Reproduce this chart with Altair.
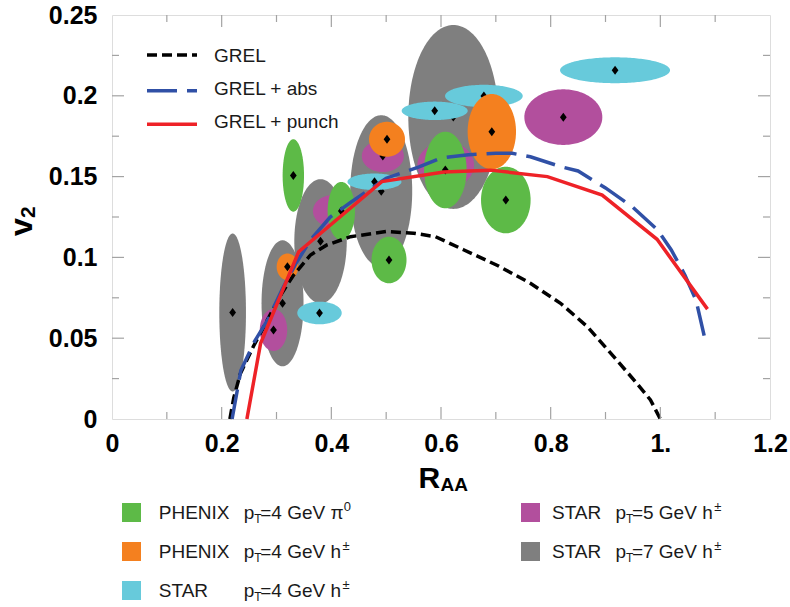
import altair as alt
import pandas as pd

# ---------------- data ----------------
# ellipses: series key, centre (R_AA, v2), half-widths
ell_series = ["star7", "star7", "star5", "phenix_h", "star4", "star7", "star5", "phenix_pi0",
              "phenix_pi0", "star7", "star5", "phenix_h", "star4", "phenix_pi0", "star7",
              "star5", "phenix_pi0", "star4", "star4", "phenix_h", "phenix_pi0", "star5", "star4"]
ell_x = [0.220, 0.311, 0.2945, 0.320, 0.3784, 0.3803, 0.403, 0.4182,
         0.3307, 0.491, 0.4939, 0.5015, 0.4787, 0.5052, 0.6225,
         0.6086, 0.6079, 0.5885, 0.6782, 0.6927, 0.7182, 0.8231, 0.9174]
ell_y = [0.0659, 0.0716, 0.0551, 0.0942, 0.0656, 0.1100, 0.1287, 0.1287,
         0.1507, 0.1410, 0.1627, 0.1731, 0.1468, 0.0984, 0.1869,
         0.1572, 0.1541, 0.1907, 0.1999, 0.1778, 0.1355, 0.1868, 0.2158]
ell_rx = [0.0243, 0.0383, 0.0250, 0.0197, 0.0405, 0.0478, 0.0365, 0.0250,
          0.0195, 0.0565, 0.0383, 0.0328, 0.0492, 0.0319, 0.0821,
          0.0516, 0.0388, 0.0602, 0.0708, 0.0441, 0.0452, 0.0711, 0.1003]
ell_ry = [0.0489, 0.0390, 0.0130, 0.0082, 0.0070, 0.0384, 0.0099, 0.0180,
          0.0224, 0.0470, 0.0099, 0.0108, 0.0051, 0.0144, 0.0569,
          0.0144, 0.0237, 0.0057, 0.0069, 0.0233, 0.0206, 0.0172, 0.0080]

grel_x = [0.215, 0.222, 0.234, 0.258, 0.283, 0.310, 0.331, 0.362, 0.392, 0.435, 0.50, 0.55,
          0.59, 0.642, 0.703, 0.763, 0.818, 0.867, 0.915, 0.952, 0.982, 1.0]
grel_y = [0.0, 0.013, 0.028, 0.045, 0.061, 0.078, 0.089, 0.1015, 0.1077, 0.1128, 0.1160, 0.1150,
          0.1128, 0.1046, 0.0950, 0.0840, 0.0716, 0.0571, 0.0386, 0.0241, 0.0118, 0.0]

abs_x = [0.219, 0.235, 0.26, 0.285, 0.31, 0.335, 0.362, 0.398, 0.435, 0.50, 0.56, 0.60, 0.65,
         0.70, 0.73, 0.763, 0.82, 0.85, 0.90, 0.95, 0.995, 1.02, 1.045, 1.065, 1.083]
abs_y = [0.0, 0.030, 0.048, 0.062, 0.080, 0.096, 0.1108, 0.125, 0.134, 0.149, 0.156, 0.1615,
         0.1635, 0.1644, 0.1644, 0.1623, 0.156, 0.1535, 0.143, 0.131, 0.117, 0.1046, 0.089,
         0.0736, 0.047]

punch_x = [0.246, 0.271, 0.3405, 0.492, 0.605, 0.69, 0.794, 0.894, 0.994, 1.086]
punch_y = [0.0, 0.0468, 0.1035, 0.1469, 0.1528, 0.154, 0.150, 0.1386, 0.1112, 0.068]

curve_labels = ["GREL", "GREL + abs", "GREL + punch"]

x_tick_labels = [0, 0.2, 0.4, 0.6, 0.8, 1.0, 1.2]
y_tick_labels = [0, 0.05, 0.1, 0.15, 0.2, 0.25]
x_major = [0.2, 0.4, 0.6, 0.8, 1.0]
x_minor = [0.1, 0.3, 0.5, 0.7, 0.9, 1.1]
y_major = [0.05, 0.1, 0.15, 0.2]
y_minor = [0.025, 0.075, 0.125, 0.175, 0.225]

# bottom legend entries
leg_keys = ["phenix_pi0", "phenix_h", "star4", "star5", "star7"]
leg_group = ["PHENIX", "PHENIX", "STAR", "STAR", "STAR"]
leg_pt = ["4", "4", "4", "5", "7"]
leg_particle = ["\u03c0", "h", "h", "h", "h"]
leg_charge = ["0", "\u00b1", "\u00b1", "\u00b1", "\u00b1"]

# ---------------- style ----------------
COLORS = {"phenix_pi0": "#5dba47", "phenix_h": "#f4801f", "star4": "#67cadb",
          "star5": "#b24f9d", "star7": "#7f7f7f"}
DRAW_ORDER = ["star7", "star5", "star4", "phenix_pi0", "phenix_h"]
FONT = "Liberation Sans"
W, H = 658, 404
FRAME = "#a3a3a3"
DIAMOND = "M0,-1L0.75,0L0,1L-0.75,0Z"

xs = alt.Scale(domain=[0, 1.2], nice=False, zero=False)
ys = alt.Scale(domain=[0, 0.25], nice=False, zero=False)

xaxis = alt.Axis(values=x_tick_labels, format="~g",
                 labelExpr="datum.value == 1 ? '1.' : datum.label",
                 title=None, ticks=False, domain=False, grid=False,
                 labelFont=FONT, labelFontSize=25, labelFontWeight="bold", labelColor="black",
                 labelPadding=12, labelFlush=False, labelOverlap=False)
yaxis = alt.Axis(values=y_tick_labels, format="~g", title=None, ticks=False, domain=False,
                 grid=False, labelFont=FONT, labelFontSize=25, labelFontWeight="bold",
                 labelColor="black", labelPadding=15, labelFlush=False, labelOverlap=False)


def X(field):
    return alt.X(field, scale=xs, axis=xaxis, title=None)


def Y(field):
    return alt.Y(field, scale=ys, axis=yaxis, title=None)


one = pd.DataFrame({"k": [0]})
layers = []

# ---------------- ellipses + centre diamonds ----------------
ell = pd.DataFrame({"series": ell_series, "x": ell_x, "y": ell_y, "rx": ell_rx, "ry": ell_ry})
ell["id"] = range(len(ell))
for key in DRAW_ORDER:
    base = alt.Chart(ell).transform_filter(alt.datum.series == key)
    area = (base.transform_calculate(t="sequence(0, PI + 0.001, PI / 90)")
            .transform_flatten(["t"])
            .transform_calculate(px="datum.x - datum.rx * cos(datum.t)",
                                 ylo="datum.y - datum.ry * sin(datum.t)",
                                 yhi="datum.y + datum.ry * sin(datum.t)")
            .mark_area(color=COLORS[key], opacity=1, interpolate="linear")
            .encode(x=X("px:Q"), y=Y("ylo:Q"), y2="yhi:Q", detail="id:N"))
    dia = base.mark_point(shape=DIAMOND, filled=True, color="black", opacity=1, size=81).encode(
        x=X("x:Q"), y=Y("y:Q"))
    layers += [area, dia]

# ---------------- model curves ----------------
curves = [
    (grel_x, grel_y, "#000000", [10, 5]),
    (abs_x, abs_y, "#3050a6", [30, 10]),
    (punch_x, punch_y, "#ee2227", None),
]
for cx, cy, col, dash in curves:
    kw = dict(color=col, strokeWidth=3.5, strokeCap="butt")
    if dash:
        kw["strokeDash"] = dash
    layers.append(alt.Chart(pd.DataFrame({"x": cx, "y": cy})).mark_line(**kw).encode(
        x=X("x:Q"), y=Y("y:Q")))


# ---------------- inward ticks on all four sides ----------------
def xticks(vals, length):
    d = pd.DataFrame({"v": vals})
    out = []
    for y0, y1 in [(H, H - length), (0, length)]:
        out.append(alt.Chart(d).mark_rule(color=FRAME, strokeWidth=1.2).encode(
            x=X("v:Q"), y=alt.value(y0), y2=alt.value(y1)))
    return out


def yticks(vals, length):
    d = pd.DataFrame({"v": vals})
    out = []
    for x0, x1 in [(0, length), (W, W - length)]:
        out.append(alt.Chart(d).mark_rule(color=FRAME, strokeWidth=1.2).encode(
            y=Y("v:Q"), x=alt.value(x0), x2=alt.value(x1)))
    return out


layers += xticks(x_major, 12) + xticks(x_minor, 7) + yticks(y_major, 12) + yticks(y_minor, 7)

# ---------------- text helpers ----------------
AW = {"P": .667, "H": .722, "E": .667, "N": .722, "I": .278, "X": .667, "S": .667, "T": .611,
      "A": .667, "R": .722, "p": .556, "=": .584, " ": .278, "G": .778, "e": .556, "V": .667,
      "h": .556, "\u03c0": .62}


def tw(s, size):
    return sum(AW.get(c, 0.556) for c in s) * size


def txt(s, x, y, size, weight="normal", angle=0, color="#1a1a1a"):
    return alt.Chart(one).mark_text(font=FONT, fontSize=size, fontWeight=weight, angle=angle,
                                    align="left", baseline="alphabetic", color=color).encode(
        text=alt.value(s), x=alt.value(x), y=alt.value(y))


# in-plot legend for curves
leg_line_y = [40, 75.7, 109.3]
leg_text_y = [46.7, 80, 113.3]
for (cx, cy, col, dash), lab, ly, ty in zip(curves, curve_labels, leg_line_y, leg_text_y):
    kw = dict(color=col, strokeWidth=3.5, strokeCap="butt")
    if dash:
        kw["strokeDash"] = dash
    layers.append(alt.Chart(one).mark_rule(**kw).encode(
        x=alt.value(35), x2=alt.value(85), y=alt.value(ly)))
    layers.append(txt(lab, 102, ty, 19))

# axis titles
layers.append(txt("R", 306.6, 473, 30, "bold", color="black"))
layers.append(txt("AA", 328.5, 476, 19, "bold", color="black"))
layers.append(txt("v", -80, 221, 32, "bold", angle=270, color="black"))
layers.append(txt("2", -77, 203, 21, "bold", angle=270, color="black"))

# bottom legend
cols = [(10, 46.8, 131.8), (409, 440, 503.5)]
rows = [503.5, 542.5, 581.5]
slots = [(0, 0), (0, 1), (0, 2), (1, 0), (1, 1)]
for key, grp, pt, part, chg, (ci, ri) in zip(leg_keys, leg_group, leg_pt, leg_particle,
                                               leg_charge, slots):
    sx, gx, px = cols[ci]
    by = rows[ri]
    layers.append(alt.Chart(one).mark_rect(color=COLORS[key]).encode(
        x=alt.value(sx), x2=alt.value(sx + 19), y=alt.value(by - 15.5), y2=alt.value(by + 3.5)))
    layers.append(txt(grp, gx, by, 19))
    layers.append(txt("p", px, by, 19))
    layers.append(txt("T", px + tw("p", 19), by + 4, 12))
    rest = "=" + pt + " GeV " + part
    rx0 = px + tw("p", 19) + tw("T", 12) - 1.5
    layers.append(txt(rest, rx0, by, 19))
    layers.append(txt(chg, rx0 + tw(rest, 19) + 1.5, by - 8, 13))

chart = alt.layer(*layers).properties(
    width=W, height=H,
    padding={"left": 112, "top": 15, "right": 20, "bottom": 188},
    autosize="none",
).configure_view(stroke=FRAME, strokeWidth=1.5).configure(background="white")

chart.save("out.html", embed_options={"renderer": "svg", "actions": False})
